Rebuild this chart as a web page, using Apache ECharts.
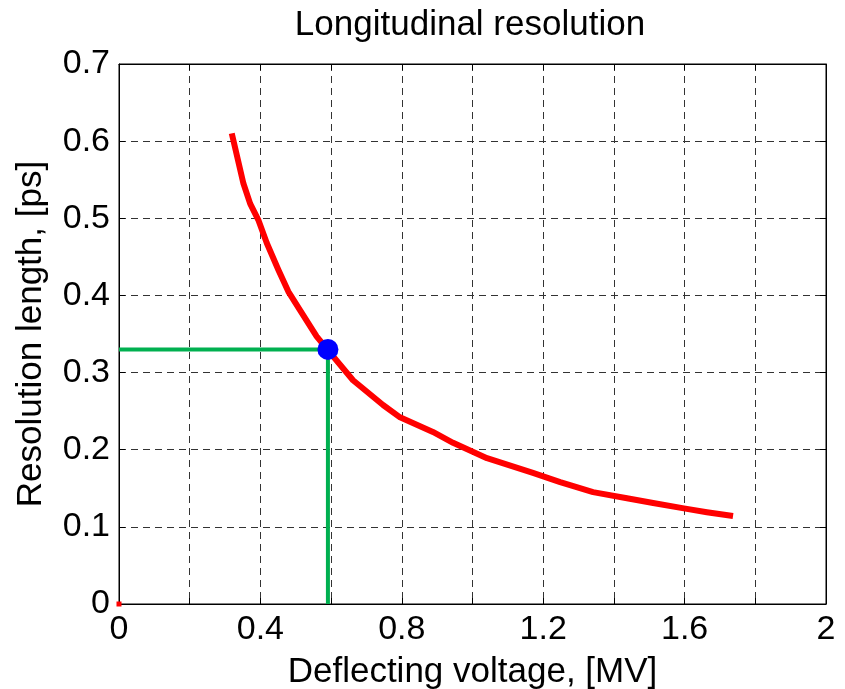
<!DOCTYPE html>
<html>
<head>
<meta charset="utf-8">
<script src="https://cdn.jsdelivr.net/npm/echarts@6/dist/echarts.min.js"></script>
<style>
html,body{margin:0;padding:0;background:#fff;}
#chart{width:845px;height:689px;}
</style>
</head>
<body>
<div id="chart"></div>
<script>
var titleText = 'Longitudinal resolution';
var xName = 'Deflecting voltage, [MV]';
var yName = 'Resolution length, [ps]';
var voltage = [0.319, 0.352, 0.371, 0.394, 0.418, 0.451, 0.479, 0.512, 0.559, 0.591, 0.662, 0.747, 0.795, 0.888, 0.945, 1.041, 1.171, 1.248, 1.276, 1.341, 1.437, 1.511, 1.598, 1.663, 1.737];
var resolution = [0.610, 0.545, 0.519, 0.498, 0.468, 0.433, 0.405, 0.381, 0.347, 0.329, 0.290, 0.258, 0.242, 0.223, 0.209, 0.189, 0.170, 0.158, 0.154, 0.145, 0.137, 0.131, 0.124, 0.119, 0.114];
var opVoltage = 0.591;
var opResolution = 0.330;
var xTickLabels = ['0', '0.4', '0.8', '1.2', '1.6', '2'];
var yTickLabels = ['0', '0.1', '0.2', '0.3', '0.4', '0.5', '0.6', '0.7'];

var FONT = '"Liberation Sans", Arial, sans-serif';
var curve = voltage.map(function (v, i) { return [v, resolution[i]]; });

function xLabel(v) {
  var k = Math.round(v / 0.2);
  if (k % 2 !== 0) return '';
  var s = (k * 0.2).toFixed(1).replace(/\.0$/, '');
  return xTickLabels.indexOf(s) >= 0 ? s : '';
}
function yLabel(v) {
  var s = (Math.round(v * 10) / 10).toString();
  return yTickLabels.indexOf(s) >= 0 ? s : '';
}

var chart = echarts.init(document.getElementById('chart'), null, {renderer: 'canvas'});
var gridLine = {show: true, lineStyle: {color: '#333', width: 1, type: [7, 5]}};
chart.setOption({
  animation: false,
  backgroundColor: '#fff',
  graphic: [{
    type: 'text', x: 470, y: 8, z: 10,
    style: {text: titleText, font: '35px "Liberation Sans", Arial, sans-serif', fill: '#000', textAlign: 'center', textVerticalAlign: 'top'}
  }],
  grid: {left: 119, right: 19, top: 64, bottom: 85, containLabel: false, outerBoundsMode: 'none', show: true, borderColor: '#000', borderWidth: 1, backgroundColor: '#fff'},
  xAxis: [{
    type: 'value', min: 0, max: 2, interval: 0.2,
    name: xName, nameLocation: 'middle', nameGap: 51,
    nameTextStyle: {fontFamily: FONT, fontSize: 35, color: '#000'},
    axisLine: {show: true, onZero: false, lineStyle: {color: '#000', width: 1}},
    axisTick: {show: true, inside: true, length: 6, lineStyle: {color: '#000'}},
    axisLabel: {fontFamily: FONT, fontSize: 34, color: '#000', margin: 9, formatter: xLabel, showMinLabel: true, showMaxLabel: true},
    splitLine: gridLine
  }, {
    type: 'value', min: 0, max: 2, interval: 0.2, position: 'top',
    axisLine: {show: true, onZero: false, lineStyle: {color: '#000', width: 1}},
    axisTick: {show: true, inside: true, length: 6, lineStyle: {color: '#000'}},
    axisLabel: {show: false}, splitLine: {show: false}
  }],
  yAxis: [{
    type: 'value', min: 0, max: 0.7, interval: 0.1,
    name: yName, nameLocation: 'middle', nameGap: 70, nameRotate: 90,
    nameTextStyle: {fontFamily: FONT, fontSize: 35, color: '#000'},
    axisLine: {show: true, onZero: false, lineStyle: {color: '#000', width: 1}},
    axisTick: {show: true, inside: true, length: 6, lineStyle: {color: '#000'}},
    axisLabel: {fontFamily: FONT, fontSize: 34, color: '#000', margin: 9, formatter: yLabel, showMinLabel: true, showMaxLabel: true},
    splitLine: gridLine
  }, {
    type: 'value', min: 0, max: 0.7, interval: 0.1, position: 'right',
    axisLine: {show: true, onZero: false, lineStyle: {color: '#000', width: 1}},
    axisTick: {show: true, inside: true, length: 6, lineStyle: {color: '#000'}},
    axisLabel: {show: false}, splitLine: {show: false}
  }],
  series: [
    {
      type: 'line', data: [[0, opResolution], [opVoltage, opResolution], [opVoltage, 0]],
      showSymbol: false, symbol: 'none', lineStyle: {color: '#00b050', width: 4, cap: 'butt'}, z: 2
    },
    {
      type: 'line', data: curve, showSymbol: false, symbol: 'none',
      lineStyle: {color: '#ff0000', width: 6, cap: 'butt', join: 'round'}, z: 3
    },
    {
      type: 'scatter', data: [[opVoltage, opResolution]], symbol: 'circle', symbolSize: 21,
      itemStyle: {color: '#0000ff', opacity: 1}, z: 4
    },
    {
      type: 'scatter', data: [[0, 0]], symbol: 'rect', symbolSize: 5, clip: false,
      itemStyle: {color: '#ff0000', opacity: 1}, z: 4
    }
  ]
});
</script>
</body>
</html>
